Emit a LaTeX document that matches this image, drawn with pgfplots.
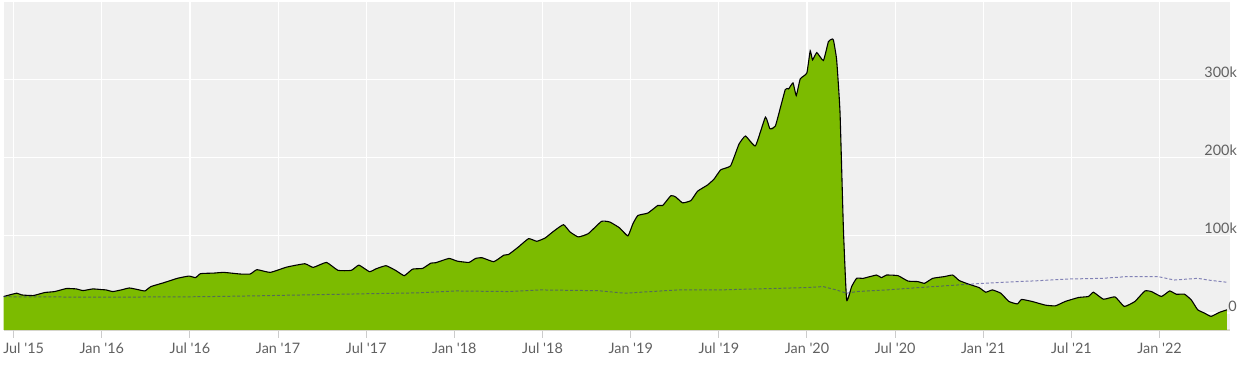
\documentclass[border=0pt]{standalone}
\usepackage{pgfplots}
\pgfplotsset{compat=1.18}
\usepackage{pgfplotstable}
\usepackage{fontspec}
\setmainfont{Lato}
\definecolor{bg}{HTML}{F0F0F0}
\definecolor{grn}{HTML}{7CBB00}
\definecolor{lbl}{HTML}{606060}
\definecolor{axl}{HTML}{D6D6CC}
\definecolor{tickc}{HTML}{CCCCCC}
\definecolor{dashc}{HTML}{3A3A90}
\newcommand{\q}{\textquotesingle}

\pgfplotstableread{
m v
5.32 21.3
6.20 25.5
6.54 23.3
7.33 22.5
8.12 26.4
8.79 27.6
9.59 31.5
10.26 31.0
10.72 28.9
11.39 31.0
11.95 30.2
12.29 29.7
12.75 27.6
13.31 29.7
13.87 32.2
14.44 30.2
14.93 28.4
15.34 34.0
16.24 39.1
17.14 44.6
17.93 47.5
18.38 45.5
18.72 50.6
19.62 51.3
20.30 52.2
21.43 50.1
22.10 50.1
22.56 55.7
23.46 52.2
24.59 59.0
25.82 63.3
26.39 58.6
27.29 65.0
28.08 54.8
28.98 54.8
29.50 61.5
30.22 53.1
30.68 56.9
31.35 60.8
32.03 54.4
32.59 48.0
33.15 56.4
33.83 57.3
34.40 64.1
34.73 64.6
35.63 70.1
36.20 66.6
36.99 65.0
37.44 70.1
37.89 71.0
38.68 65.9
39.36 74.3
39.69 75.2
40.37 85.0
41.05 95.5
41.61 92.1
42.18 96.4
42.74 104.8
43.42 113.4
43.87 104.1
44.43 97.7
45.11 101.9
46.01 117.6
46.58 116.8
47.25 109.2
47.81 99.0
48.15 114.6
48.49 125.2
49.17 128.3
49.84 138.0
50.18 138.0
50.74 150.7
51.08 148.7
51.53 141.4
52.10 144.3
52.55 156.3
53.23 164.3
53.68 172.0
54.13 183.8
54.80 188.9
55.37 216.6
55.82 227.1
56.49 214.4
57.17 251.3
57.47 236.6
57.85 239.9
58.52 286.6
58.75 287.5
59.05 295.2
59.27 279.0
59.54 300.3
59.99 307.9
60.22 336.3
60.38 324.8
60.67 334.1
61.12 324.0
61.46 348.2
61.68 351.2
61.80 350.3
62.02 324.8
62.25 257.3
62.48 108.3
62.70 16.9
63.04 34.0
63.38 44.6
63.83 44.6
64.73 48.8
65.07 45.5
65.41 48.8
66.20 48.0
66.87 41.1
67.55 40.4
68.00 38.2
68.56 44.6
69.35 46.8
69.92 48.8
70.37 41.7
71.04 36.9
71.72 32.7
72.17 26.8
72.62 29.7
73.19 25.5
73.75 14.9
74.32 11.8
74.61 17.5
75.33 14.9
76.23 10.2
76.91 9.3
77.58 14.9
78.48 20.0
79.16 21.3
79.50 26.8
80.18 17.8
80.97 20.8
81.60 8.5
82.32 14.9
83.00 28.4
83.45 27.6
84.13 21.3
84.69 28.4
85.14 24.2
85.70 24.2
86.16 16.9
86.60 4.2
87.06 0.0
87.51 -4.2
88.07 0.9
88.59 4.2
}\mainseries

\pgfplotstableread{
m v
5.32 21.0
11.95 20.4
18.72 21.0
22.10 22.0
30.00 24.8
33.60 26.0
36.10 28.4
39.70 27.6
41.90 29.7
45.80 28.7
47.60 25.5
51.20 29.7
54.00 29.7
59.90 32.7
61.10 34.0
62.00 29.7
62.70 25.5
63.40 27.6
65.40 29.7
67.60 32.7
70.30 36.1
72.00 38.2
73.30 39.5
75.60 41.4
77.80 43.7
80.10 44.6
81.80 46.8
83.90 46.8
85.00 42.4
86.60 44.6
87.30 42.4
88.59 39.5
}\dashseries

\begin{document}
\begin{tikzpicture}
\path (0,0) rectangle (1238bp,376bp);
\begin{axis}[
  at={(2bp,44bp)}, anchor=south west,
  scale only axis, width=1234bp, height=330bp,
  xmin=5.32, xmax=88.8, ymin=-21.6, ymax=399,
  axis background/.style={fill=bg},
  axis x line*=bottom, axis y line*=right,
  x axis line style={draw=axl, line width=1.2bp},
  y axis line style={draw=none},
  xtick={12,18,...,84},
  xticklabels={Jan \q16,Jul \q16,Jan \q17,Jul \q17,Jan \q18,Jul \q18,Jan \q19,Jul \q19,Jan \q20,Jul \q20,Jan \q21,Jul \q21,Jan \q22},
  extra x ticks={6},
  extra x tick labels={Jul \q15},
  extra x tick style={grid=major, xticklabel style={xshift=10bp}},
  ytick={0,100,200,300},
  yticklabels={0,100k,200k,300k},
  grid=major,
  major grid style={white, line width=1.2bp},
  tick align=outside,
  major tick length=8bp,
  xtick style={draw=tickc, line width=1bp},
  ytick style={draw=none},
  ticklabel style={font=\fontsize{14.5bp}{17bp}\selectfont, text=lbl},
  yticklabel style={anchor=south east, inner sep=1bp},
  xticklabel style={yshift=-2bp},
  /pgf/number format/assume math mode=true,
]
\addplot[fill=grn, draw=none] table[x=m,y=v] {\mainseries} -- (axis cs:88.59,-30) -- (axis cs:5.32,-30) -- cycle;
\addplot[black, line width=1.1bp, smooth, tension=0.25] table[x=m,y=v] {\mainseries};
\addplot[dashc, opacity=0.6, line width=1bp, dash pattern=on 3bp off 2bp] table[x=m,y=v] {\dashseries};
\end{axis}
\end{tikzpicture}
\end{document}
